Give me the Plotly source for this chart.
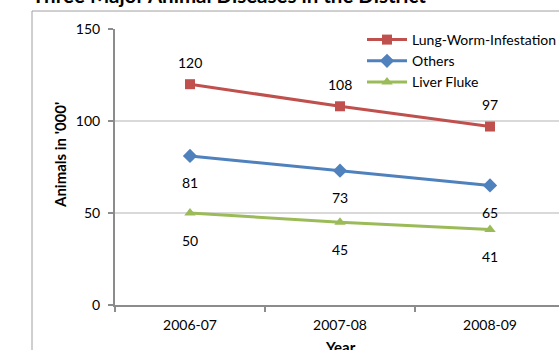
import plotly.graph_objects as go

categories = ["2006-07", "2007-08", "2008-09"]
lung_worm = [120, 108, 97]
others = [81, 73, 65]
liver_fluke = [50, 45, 41]
y_ticks = [0, 50, 100, 150]

W, H = 559, 350
L, R, T, B = 115, 0, 29, 45
PW = W - L - R
PH = H - T - B

def px_x(p):
    return (p - L) / PW

def px_y(p):
    return (H - B - p) / PH

FONT = "Lato, 'Open Sans', sans-serif"

series = [
    ("Lung-Worm-Infestation", lung_worm, "#C0504D", "square", 22),
    ("Others", others, "#4F81BD", "diamond", -27),
    ("Liver Fluke", liver_fluke, "#9BBB59", "triangle-up", -27),
]

fig = go.Figure()
annotations = []
for name, vals, color, sym, shift in series:
    fig.add_trace(go.Scatter(
        x=categories, y=vals, name=name, mode="lines+markers",
        line=dict(color=color, width=3),
        marker=dict(symbol=sym, size=10 if sym != "diamond" else 11, color=color),
    ))
    for c, v in zip(categories, vals):
        annotations.append(dict(
            x=c, y=v, xref="x", yref="y", text=str(v), showarrow=False,
            yshift=shift, yanchor="middle", xanchor="center",
            font=dict(family=FONT, size=14, color="#000000"),
        ))

# Title (partially cropped at top)
annotations.append(dict(
    x=px_x(30), y=px_y(-5), xref="paper", yref="paper",
    text="<b>Three Major Animal Diseases in the District</b>",
    showarrow=False, xanchor="left", yanchor="middle",
    font=dict(family=FONT, size=20.5, color="#000000"),
))
# Axis titles
annotations.append(dict(
    x=px_x(60), y=px_y(155), xref="paper", yref="paper",
    text="<b>Animals in '000'</b>", showarrow=False, textangle=-90,
    xanchor="center", yanchor="middle",
    font=dict(family=FONT, size=15, color="#000000"),
))
annotations.append(dict(
    x=px_x(340), y=px_y(347), xref="paper", yref="paper",
    text="<b>Year</b>", showarrow=False,
    xanchor="center", yanchor="middle",
    font=dict(family=FONT, size=15, color="#000000"),
))

shapes = [
    dict(type="line", xref="paper", yref="paper",
         x0=px_x(32), x1=px_x(32), y0=px_y(11), y1=px_y(360),
         line=dict(color="#A0A0A0", width=1)),
    dict(type="line", xref="paper", yref="paper",
         x0=px_x(32), x1=px_x(570), y0=px_y(11), y1=px_y(11),
         line=dict(color="#A0A0A0", width=1)),
]

fig.update_layout(
    width=W, height=H,
    margin=dict(l=L, r=R, t=T, b=B, pad=0, autoexpand=False),
    paper_bgcolor="white", plot_bgcolor="white",
    font=dict(family=FONT, size=14, color="#000000"),
    annotations=annotations, shapes=shapes,
    showlegend=True,
    legend=dict(x=px_x(362), y=px_y(24), xanchor="left", yanchor="top",
                bgcolor="rgba(0,0,0,0)", font=dict(family=FONT, size=14),
                tracegroupgap=0, itemwidth=40),
    xaxis=dict(type="category", range=[-0.5, (W - L) / 150 - 0.5],
               tickson="boundaries", ticks="outside", ticklen=5, tickwidth=2,
               tickcolor="#8C8C8C", showline=True, linecolor="#8C8C8C",
               linewidth=2, showgrid=False, ticklabelstandoff=6,
               tickfont=dict(family=FONT, size=14)),
    yaxis=dict(range=[0, 150], tickvals=y_ticks, ticks="outside", ticklen=5,
               tickwidth=2, tickcolor="#8C8C8C", showline=True,
               linecolor="#8C8C8C", linewidth=2, showgrid=True,
               gridcolor="#D9D9D9", gridwidth=2, zeroline=False,
               ticklabelstandoff=5, tickfont=dict(family=FONT, size=14)),
)

fig.write_html(
    "out.html",
    config={"displayModeBar": False},
    post_script="document.body.style.margin='0';document.body.style.overflow='hidden';",
)
